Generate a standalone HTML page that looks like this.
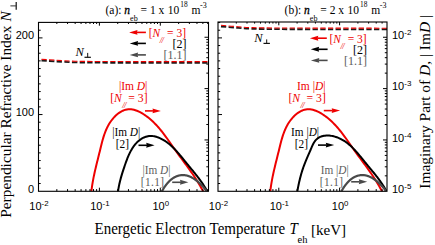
<!DOCTYPE html>
<html><head><meta charset="utf-8"><style>
html,body{margin:0;padding:0;background:#fff;overflow:hidden;}
svg{display:block;}

</style></head><body>
<svg width="435" height="245" viewBox="0 0 435 245">
<rect width="435" height="245" fill="#fff"/>
<defs>
<clipPath id="cL"><rect x="38.5" y="22.4" width="170.00" height="168.90"/></clipPath>
<clipPath id="cR"><rect x="218.0" y="22.0" width="169.00" height="169.30"/></clipPath>
</defs>
<g clip-path="url(#cL)">
<path d="M41.50 60.30C43.75 60.45 49.42 60.88 55.00 61.20C60.58 61.52 67.50 61.98 75.00 62.20C82.50 62.42 87.50 62.43 100.00 62.50C112.50 62.57 132.00 62.58 150.00 62.60C168.00 62.62 198.33 62.60 208.00 62.60" transform="translate(0,0.2)" stroke="#1a1a1a" stroke-width="1.8" fill="none" stroke-dasharray="5.3 2.35"/>
<path d="M41.50 60.30C43.75 60.45 49.42 60.88 55.00 61.20C60.58 61.52 67.50 61.98 75.00 62.20C82.50 62.42 87.50 62.43 100.00 62.50C112.50 62.57 132.00 62.58 150.00 62.60C168.00 62.62 198.33 62.60 208.00 62.60" transform="translate(0,-1.0)" stroke="#ee0000" stroke-width="1.1" fill="none" stroke-dasharray="5.3 2.35"/>
</g>
<g clip-path="url(#cR)">
<path d="M221.00 26.30C223.33 26.50 229.83 27.12 235.00 27.50C240.17 27.88 244.50 28.35 252.00 28.60C259.50 28.85 267.00 28.92 280.00 29.00C293.00 29.08 312.00 29.07 330.00 29.10C348.00 29.13 378.33 29.18 388.00 29.20" transform="translate(0,0.2)" stroke="#1a1a1a" stroke-width="1.8" fill="none" stroke-dasharray="5.3 2.35"/>
<path d="M221.00 26.30C223.33 26.50 229.83 27.12 235.00 27.50C240.17 27.88 244.50 28.35 252.00 28.60C259.50 28.85 267.00 28.92 280.00 29.00C293.00 29.08 312.00 29.07 330.00 29.10C348.00 29.13 378.33 29.18 388.00 29.20" transform="translate(0,-1.0)" stroke="#ee0000" stroke-width="1.1" fill="none" stroke-dasharray="5.3 2.35"/>
</g>
<g clip-path="url(#cL)" fill="none" stroke-width="2" stroke-linejoin="round">
<path d="M91.37 191.46 L91.55 189.92 L91.75 188.38 L91.96 186.86 L92.18 185.35 L92.42 183.84 L92.67 182.34 L92.93 180.85 L93.21 179.36 L93.49 177.88 L93.79 176.41 L94.10 174.94 L94.41 173.48 L94.73 172.02 L95.06 170.56 L95.40 169.11 L95.74 167.65 L96.08 166.20 L96.44 164.75 L96.79 163.30 L97.15 161.85 L97.51 160.40 L97.88 158.95 L98.24 157.49 L98.60 156.03 L98.97 154.57 L99.33 153.11 L99.70 151.64 L100.06 150.17 L100.41 148.69 L100.77 147.21 L101.14 145.73 L101.51 144.24 L101.89 142.76 L102.28 141.29 L102.69 139.81 L103.11 138.35 L103.55 136.89 L104.02 135.43 L104.51 133.99 L105.03 132.57 L105.58 131.15 L106.17 129.75 L106.79 128.37 L107.45 127.00 L108.15 125.65 L108.89 124.33 L109.69 123.03 L110.53 121.75 L111.42 120.50 L112.37 119.27 L113.37 118.08 L114.42 116.93 L115.52 115.83 L116.65 114.79 L117.83 113.81 L119.05 112.91 L120.30 112.08 L121.58 111.34 L122.88 110.70 L124.22 110.16 L125.57 109.73 L126.94 109.42 L128.33 109.24 L129.73 109.18 L131.14 109.26 L132.56 109.46 L133.98 109.78 L135.39 110.19 L136.80 110.70 L138.20 111.29 L139.58 111.95 L140.94 112.67 L142.28 113.44 L143.60 114.26 L144.89 115.11 L146.14 115.99 L147.37 116.90 L148.57 117.83 L149.75 118.79 L150.90 119.78 L152.02 120.79 L153.12 121.82 L154.20 122.87 L155.26 123.95 L156.30 125.04 L157.32 126.15 L158.33 127.28 L159.32 128.42 L160.29 129.58 L161.24 130.75 L162.19 131.94 L163.12 133.14 L164.04 134.34 L164.95 135.56 L165.86 136.78 L166.75 138.01 L167.64 139.25 L168.52 140.49 L169.40 141.73 L170.28 142.98 L171.15 144.22 L172.02 145.47 L172.89 146.71 L173.77 147.96 L174.64 149.20 L175.52 150.43 L176.40 151.66 L177.29 152.88 L178.17 154.10 L179.06 155.32 L179.96 156.53 L180.85 157.74 L181.74 158.95 L182.64 160.16 L183.53 161.37 L184.42 162.58 L185.31 163.78 L186.20 164.99 L187.08 166.20 L187.97 167.42 L188.84 168.63 L189.72 169.85 L190.58 171.08 L191.44 172.31 L192.30 173.54 L193.15 174.78 L193.99 176.03 L194.82 177.28 L195.64 178.54 L196.46 179.81 L197.26 181.09 L198.06 182.38 L198.84 183.68 L199.61 184.99 L200.37 186.31 L201.12 187.65 L201.85 188.99 L202.57 190.35 L203.28 191.73" stroke="#ee0000"/>
<path d="M118.02 191.43 L118.19 190.29 L118.37 189.17 L118.56 188.06 L118.76 186.97 L118.96 185.89 L119.18 184.83 L119.41 183.78 L119.65 182.73 L119.89 181.70 L120.14 180.67 L120.41 179.66 L120.67 178.64 L120.95 177.64 L121.24 176.63 L121.53 175.63 L121.83 174.64 L122.13 173.64 L122.44 172.64 L122.76 171.64 L123.08 170.64 L123.41 169.63 L123.75 168.62 L124.09 167.61 L124.43 166.58 L124.78 165.55 L125.14 164.52 L125.50 163.47 L125.87 162.43 L126.25 161.38 L126.64 160.33 L127.03 159.28 L127.44 158.24 L127.87 157.20 L128.30 156.16 L128.75 155.14 L129.21 154.12 L129.69 153.11 L130.19 152.11 L130.70 151.13 L131.24 150.16 L131.79 149.20 L132.37 148.27 L132.96 147.35 L133.58 146.45 L134.22 145.58 L134.89 144.73 L135.59 143.91 L136.31 143.11 L137.05 142.34 L137.83 141.60 L138.63 140.89 L139.47 140.22 L140.33 139.58 L141.22 138.98 L142.13 138.43 L143.06 137.92 L144.01 137.47 L144.98 137.06 L145.96 136.72 L146.96 136.43 L147.97 136.20 L149.00 136.05 L150.03 135.96 L151.06 135.95 L152.11 136.00 L153.15 136.12 L154.19 136.29 L155.23 136.52 L156.26 136.80 L157.28 137.13 L158.30 137.50 L159.30 137.90 L160.28 138.33 L161.25 138.80 L162.20 139.29 L163.13 139.81 L164.05 140.35 L164.95 140.92 L165.84 141.51 L166.72 142.13 L167.58 142.76 L168.43 143.42 L169.26 144.10 L170.09 144.79 L170.90 145.51 L171.70 146.24 L172.49 146.98 L173.27 147.74 L174.04 148.51 L174.81 149.30 L175.56 150.10 L176.30 150.90 L177.04 151.72 L177.77 152.55 L178.50 153.38 L179.22 154.22 L179.93 155.06 L180.64 155.91 L181.34 156.76 L182.04 157.61 L182.74 158.47 L183.43 159.32 L184.12 160.18 L184.81 161.03 L185.50 161.88 L186.18 162.72 L186.87 163.56 L187.55 164.40 L188.24 165.23 L188.92 166.06 L189.60 166.88 L190.28 167.70 L190.96 168.52 L191.64 169.34 L192.31 170.16 L192.98 170.98 L193.65 171.80 L194.32 172.62 L194.98 173.44 L195.64 174.26 L196.30 175.09 L196.95 175.92 L197.60 176.76 L198.24 177.60 L198.88 178.45 L199.51 179.30 L200.14 180.16 L200.77 181.03 L201.38 181.90 L202.00 182.79 L202.60 183.68 L203.20 184.58 L203.80 185.50 L204.39 186.42 L204.97 187.36 L205.54 188.31 L206.11 189.28 L206.66 190.25 L207.21 191.25" stroke="#000"/>
<path d="M161.73 191.71 L161.91 191.36 L162.10 191.01 L162.30 190.66 L162.50 190.30 L162.70 189.95 L162.91 189.59 L163.12 189.24 L163.34 188.88 L163.56 188.52 L163.79 188.16 L164.02 187.81 L164.25 187.45 L164.49 187.09 L164.73 186.74 L164.98 186.38 L165.23 186.03 L165.48 185.68 L165.74 185.33 L166.00 184.98 L166.27 184.64 L166.54 184.29 L166.82 183.96 L167.09 183.62 L167.38 183.29 L167.66 182.96 L167.95 182.63 L168.25 182.31 L168.54 181.99 L168.84 181.68 L169.15 181.37 L169.45 181.07 L169.77 180.77 L170.08 180.48 L170.40 180.19 L170.72 179.91 L171.05 179.64 L171.38 179.37 L171.71 179.11 L172.04 178.85 L172.38 178.60 L172.72 178.37 L173.07 178.13 L173.42 177.91 L173.77 177.69 L174.12 177.49 L174.48 177.29 L174.84 177.09 L175.20 176.91 L175.57 176.74 L175.93 176.57 L176.30 176.41 L176.67 176.26 L177.05 176.12 L177.42 175.99 L177.80 175.87 L178.18 175.75 L178.56 175.64 L178.95 175.55 L179.33 175.46 L179.72 175.38 L180.10 175.31 L180.49 175.25 L180.88 175.20 L181.27 175.15 L181.66 175.12 L182.05 175.09 L182.44 175.08 L182.84 175.07 L183.23 175.08 L183.62 175.09 L184.02 175.11 L184.41 175.14 L184.80 175.19 L185.19 175.24 L185.59 175.30 L185.98 175.37 L186.37 175.45 L186.76 175.54 L187.15 175.64 L187.54 175.75 L187.93 175.87 L188.32 175.99 L188.71 176.13 L189.09 176.27 L189.48 176.42 L189.86 176.58 L190.24 176.75 L190.62 176.92 L191.00 177.10 L191.38 177.29 L191.76 177.48 L192.13 177.69 L192.51 177.89 L192.88 178.11 L193.25 178.33 L193.62 178.56 L193.98 178.79 L194.35 179.03 L194.71 179.27 L195.07 179.52 L195.43 179.77 L195.78 180.03 L196.13 180.29 L196.48 180.56 L196.83 180.83 L197.18 181.10 L197.52 181.38 L197.86 181.66 L198.19 181.95 L198.53 182.24 L198.86 182.53 L199.18 182.82 L199.51 183.12 L199.83 183.42 L200.14 183.72 L200.46 184.03 L200.77 184.33 L201.07 184.64 L201.38 184.95 L201.68 185.26 L201.97 185.57 L202.26 185.88 L202.55 186.19 L202.84 186.50 L203.12 186.81 L203.39 187.13 L203.66 187.44 L203.93 187.75 L204.19 188.06 L204.45 188.37 L204.70 188.68 L204.95 188.99 L205.20 189.30 L205.44 189.60 L205.67 189.91 L205.90 190.21 L206.12 190.51 L206.34 190.81 L206.56 191.10" stroke="#4a4a4a" stroke-width="2.2"/>
</g>
<g clip-path="url(#cR)" fill="none" stroke-width="2" stroke-linejoin="round">
<path d="M270.27 191.46 L270.45 189.92 L270.65 188.38 L270.86 186.86 L271.08 185.35 L271.32 183.84 L271.57 182.34 L271.83 180.85 L272.11 179.36 L272.39 177.88 L272.69 176.41 L273.00 174.94 L273.31 173.48 L273.63 172.02 L273.96 170.56 L274.30 169.11 L274.64 167.65 L274.98 166.20 L275.34 164.75 L275.69 163.30 L276.05 161.85 L276.41 160.40 L276.78 158.95 L277.14 157.49 L277.50 156.03 L277.87 154.57 L278.23 153.11 L278.60 151.64 L278.96 150.17 L279.31 148.69 L279.67 147.21 L280.04 145.73 L280.41 144.24 L280.79 142.76 L281.18 141.29 L281.59 139.81 L282.01 138.35 L282.45 136.89 L282.92 135.43 L283.41 133.99 L283.93 132.57 L284.48 131.15 L285.07 129.75 L285.69 128.37 L286.35 127.00 L287.05 125.65 L287.79 124.33 L288.59 123.03 L289.43 121.75 L290.32 120.50 L291.27 119.27 L292.27 118.08 L293.32 116.93 L294.42 115.83 L295.55 114.79 L296.73 113.81 L297.95 112.91 L299.20 112.08 L300.48 111.34 L301.78 110.70 L303.12 110.16 L304.47 109.73 L305.84 109.42 L307.23 109.24 L308.63 109.18 L310.04 109.26 L311.46 109.46 L312.88 109.78 L314.29 110.19 L315.70 110.70 L317.10 111.29 L318.48 111.95 L319.84 112.67 L321.18 113.44 L322.50 114.26 L323.79 115.11 L325.04 115.99 L326.27 116.90 L327.47 117.83 L328.65 118.79 L329.80 119.78 L330.92 120.79 L332.02 121.82 L333.10 122.87 L334.16 123.95 L335.20 125.04 L336.22 126.15 L337.23 127.28 L338.22 128.42 L339.19 129.58 L340.14 130.75 L341.09 131.94 L342.02 133.14 L342.94 134.34 L343.85 135.56 L344.76 136.78 L345.65 138.01 L346.54 139.25 L347.42 140.49 L348.30 141.73 L349.18 142.98 L350.05 144.22 L350.92 145.47 L351.79 146.71 L352.67 147.96 L353.54 149.20 L354.42 150.43 L355.30 151.66 L356.19 152.88 L357.07 154.10 L357.96 155.32 L358.86 156.53 L359.75 157.74 L360.64 158.95 L361.54 160.16 L362.43 161.37 L363.32 162.58 L364.21 163.78 L365.10 164.99 L365.98 166.20 L366.87 167.42 L367.74 168.63 L368.62 169.85 L369.48 171.08 L370.34 172.31 L371.20 173.54 L372.05 174.78 L372.89 176.03 L373.72 177.28 L374.54 178.54 L375.36 179.81 L376.16 181.09 L376.96 182.38 L377.74 183.68 L378.51 184.99 L379.27 186.31 L380.02 187.65 L380.75 188.99 L381.47 190.35 L382.18 191.73" stroke="#ee0000"/>
<path d="M297.33 191.40 L297.51 190.35 L297.70 189.29 L297.89 188.23 L298.10 187.17 L298.31 186.10 L298.53 185.03 L298.75 183.95 L298.99 182.88 L299.23 181.80 L299.48 180.73 L299.73 179.65 L300.00 178.58 L300.27 177.50 L300.55 176.43 L300.84 175.37 L301.13 174.31 L301.44 173.25 L301.75 172.20 L302.07 171.15 L302.40 170.11 L302.74 169.08 L303.08 168.06 L303.44 167.04 L303.80 166.04 L304.17 165.04 L304.55 164.05 L304.94 163.07 L305.33 162.09 L305.73 161.12 L306.14 160.14 L306.56 159.17 L306.98 158.19 L307.40 157.20 L307.84 156.21 L308.27 155.21 L308.71 154.20 L309.16 153.17 L309.60 152.13 L310.05 151.08 L310.51 150.01 L310.97 148.92 L311.43 147.82 L311.91 146.72 L312.40 145.62 L312.91 144.55 L313.45 143.52 L314.03 142.52 L314.64 141.58 L315.29 140.69 L315.99 139.88 L316.73 139.15 L317.52 138.49 L318.36 137.90 L319.22 137.39 L320.13 136.94 L321.06 136.55 L322.03 136.23 L323.02 135.97 L324.03 135.77 L325.06 135.63 L326.11 135.55 L327.18 135.51 L328.25 135.53 L329.33 135.60 L330.42 135.72 L331.51 135.88 L332.59 136.08 L333.67 136.32 L334.75 136.61 L335.81 136.93 L336.86 137.28 L337.89 137.67 L338.91 138.09 L339.90 138.54 L340.88 139.01 L341.84 139.52 L342.78 140.05 L343.70 140.60 L344.61 141.19 L345.50 141.79 L346.38 142.42 L347.24 143.07 L348.09 143.74 L348.93 144.43 L349.75 145.13 L350.56 145.86 L351.36 146.60 L352.15 147.35 L352.93 148.12 L353.70 148.91 L354.46 149.70 L355.22 150.51 L355.96 151.33 L356.70 152.15 L357.43 152.99 L358.15 153.83 L358.87 154.68 L359.58 155.53 L360.29 156.38 L360.99 157.24 L361.69 158.10 L362.39 158.96 L363.09 159.83 L363.78 160.69 L364.48 161.54 L365.17 162.40 L365.87 163.25 L366.56 164.09 L367.25 164.94 L367.95 165.77 L368.64 166.61 L369.34 167.44 L370.03 168.27 L370.72 169.10 L371.41 169.93 L372.09 170.76 L372.78 171.58 L373.46 172.42 L374.14 173.25 L374.81 174.08 L375.48 174.92 L376.15 175.76 L376.81 176.61 L377.46 177.46 L378.11 178.32 L378.76 179.18 L379.40 180.05 L380.03 180.93 L380.66 181.81 L381.28 182.71 L381.89 183.61 L382.50 184.52 L383.09 185.45 L383.68 186.38 L384.26 187.33 L384.83 188.29 L385.39 189.26 L385.94 190.24 L386.49 191.24" stroke="#000"/>
<path d="M341.23 191.71 L341.41 191.36 L341.60 191.01 L341.80 190.66 L342.00 190.30 L342.20 189.95 L342.41 189.59 L342.62 189.24 L342.84 188.88 L343.06 188.52 L343.29 188.16 L343.52 187.81 L343.75 187.45 L343.99 187.09 L344.23 186.74 L344.48 186.38 L344.73 186.03 L344.98 185.68 L345.24 185.33 L345.50 184.98 L345.77 184.64 L346.04 184.29 L346.32 183.96 L346.59 183.62 L346.88 183.29 L347.16 182.96 L347.45 182.63 L347.75 182.31 L348.04 181.99 L348.34 181.68 L348.65 181.37 L348.95 181.07 L349.27 180.77 L349.58 180.48 L349.90 180.19 L350.22 179.91 L350.55 179.64 L350.88 179.37 L351.21 179.11 L351.54 178.85 L351.88 178.60 L352.22 178.37 L352.57 178.13 L352.92 177.91 L353.27 177.69 L353.62 177.49 L353.98 177.29 L354.34 177.09 L354.70 176.91 L355.07 176.74 L355.43 176.57 L355.80 176.41 L356.17 176.26 L356.55 176.12 L356.92 175.99 L357.30 175.87 L357.68 175.75 L358.06 175.64 L358.45 175.55 L358.83 175.46 L359.22 175.38 L359.60 175.31 L359.99 175.25 L360.38 175.20 L360.77 175.15 L361.16 175.12 L361.55 175.09 L361.94 175.08 L362.34 175.07 L362.73 175.08 L363.12 175.09 L363.52 175.11 L363.91 175.14 L364.30 175.19 L364.69 175.24 L365.09 175.30 L365.48 175.37 L365.87 175.45 L366.26 175.54 L366.65 175.64 L367.04 175.75 L367.43 175.87 L367.82 175.99 L368.21 176.13 L368.59 176.27 L368.98 176.42 L369.36 176.58 L369.74 176.75 L370.12 176.92 L370.50 177.10 L370.88 177.29 L371.26 177.48 L371.63 177.69 L372.01 177.89 L372.38 178.11 L372.75 178.33 L373.12 178.56 L373.48 178.79 L373.85 179.03 L374.21 179.27 L374.57 179.52 L374.93 179.77 L375.28 180.03 L375.63 180.29 L375.98 180.56 L376.33 180.83 L376.68 181.10 L377.02 181.38 L377.36 181.66 L377.69 181.95 L378.03 182.24 L378.36 182.53 L378.68 182.82 L379.01 183.12 L379.33 183.42 L379.64 183.72 L379.96 184.03 L380.27 184.33 L380.57 184.64 L380.88 184.95 L381.18 185.26 L381.47 185.57 L381.76 185.88 L382.05 186.19 L382.34 186.50 L382.62 186.81 L382.89 187.13 L383.16 187.44 L383.43 187.75 L383.69 188.06 L383.95 188.37 L384.20 188.68 L384.45 188.99 L384.70 189.30 L384.94 189.60 L385.17 189.91 L385.40 190.21 L385.62 190.51 L385.84 190.81 L386.06 191.10" stroke="#4a4a4a" stroke-width="2.2"/>
</g>
<path d="M56.83 191.30v-2.2M56.83 22.40v1.6M67.56 191.30v-2.2M67.56 22.40v1.6M75.17 191.30v-2.2M75.17 22.40v1.6M81.07 191.30v-2.2M81.07 22.40v1.6M85.89 191.30v-2.2M85.89 22.40v1.6M89.97 191.30v-2.2M89.97 22.40v1.6M93.50 191.30v-2.2M93.50 22.40v1.6M96.61 191.30v-2.2M96.61 22.40v1.6M99.40 191.30v-3.6M99.40 22.40v3.3M117.73 191.30v-2.2M117.73 22.40v1.6M128.46 191.30v-2.2M128.46 22.40v1.6M136.07 191.30v-2.2M136.07 22.40v1.6M141.97 191.30v-2.2M141.97 22.40v1.6M146.79 191.30v-2.2M146.79 22.40v1.6M150.87 191.30v-2.2M150.87 22.40v1.6M154.40 191.30v-2.2M154.40 22.40v1.6M157.51 191.30v-2.2M157.51 22.40v1.6M160.30 191.30v-3.6M160.30 22.40v3.3M178.63 191.30v-2.2M178.63 22.40v1.6M189.36 191.30v-2.2M189.36 22.40v1.6M196.97 191.30v-2.2M196.97 22.40v1.6M202.87 191.30v-2.2M202.87 22.40v1.6M207.69 191.30v-2.2M207.69 22.40v1.6M38.50 183.53h2.2M38.50 175.87h2.2M38.50 168.20h2.2M38.50 160.54h2.2M38.50 152.88h2.2M38.50 145.21h2.2M38.50 137.54h2.2M38.50 129.88h2.2M38.50 122.21h2.2M38.50 114.55h4.0M38.50 106.88h2.2M38.50 99.22h2.2M38.50 91.55h2.2M38.50 83.89h2.2M38.50 76.22h2.2M38.50 68.56h2.2M38.50 60.89h2.2M38.50 53.23h2.2M38.50 45.56h2.2M38.50 37.90h4.0M38.50 30.23h2.2M208.50 175.84h-2.2M208.50 166.80h-2.2M208.50 160.38h-2.2M208.50 155.41h-2.2M208.50 151.34h-2.2M208.50 147.90h-2.2M208.50 144.93h-2.2M208.50 142.30h-2.2M208.50 139.95h-4.0M208.50 124.49h-2.2M208.50 115.45h-2.2M208.50 109.03h-2.2M208.50 104.06h-2.2M208.50 99.99h-2.2M208.50 96.55h-2.2M208.50 93.58h-2.2M208.50 90.95h-2.2M208.50 88.60h-4.0M208.50 73.14h-2.2M208.50 64.10h-2.2M208.50 57.68h-2.2M208.50 52.71h-2.2M208.50 48.64h-2.2M208.50 45.20h-2.2M208.50 42.23h-2.2M208.50 39.60h-2.2M208.50 37.25h-4.0" stroke="#000" stroke-width="1" fill="none"/>
<rect x="38.5" y="22.4" width="170.00" height="168.90" fill="none" stroke="#000" stroke-width="1.1"/>
<path d="M236.30 191.30v-2.2M236.30 22.00v1.6M247.01 191.30v-2.2M247.01 22.00v1.6M254.61 191.30v-2.2M254.61 22.00v1.6M260.50 191.30v-2.2M260.50 22.00v1.6M265.31 191.30v-2.2M265.31 22.00v1.6M269.38 191.30v-2.2M269.38 22.00v1.6M272.91 191.30v-2.2M272.91 22.00v1.6M276.02 191.30v-2.2M276.02 22.00v1.6M278.80 191.30v-3.6M278.80 22.00v3.3M297.10 191.30v-2.2M297.10 22.00v1.6M307.81 191.30v-2.2M307.81 22.00v1.6M315.41 191.30v-2.2M315.41 22.00v1.6M321.30 191.30v-2.2M321.30 22.00v1.6M326.11 191.30v-2.2M326.11 22.00v1.6M330.18 191.30v-2.2M330.18 22.00v1.6M333.71 191.30v-2.2M333.71 22.00v1.6M336.82 191.30v-2.2M336.82 22.00v1.6M339.60 191.30v-3.6M339.60 22.00v3.3M357.90 191.30v-2.2M357.90 22.00v1.6M368.61 191.30v-2.2M368.61 22.00v1.6M376.21 191.30v-2.2M376.21 22.00v1.6M382.10 191.30v-2.2M382.10 22.00v1.6M218.00 183.53h2.2M218.00 175.87h2.2M218.00 168.20h2.2M218.00 160.54h2.2M218.00 152.88h2.2M218.00 145.21h2.2M218.00 137.54h2.2M218.00 129.88h2.2M218.00 122.21h2.2M218.00 114.55h4.0M218.00 106.88h2.2M218.00 99.22h2.2M218.00 91.55h2.2M218.00 83.89h2.2M218.00 76.22h2.2M218.00 68.56h2.2M218.00 60.89h2.2M218.00 53.23h2.2M218.00 45.56h2.2M218.00 37.90h4.0M218.00 30.23h2.2M218.00 22.57h2.2M387.00 175.84h-2.2M387.00 166.80h-2.2M387.00 160.38h-2.2M387.00 155.41h-2.2M387.00 151.34h-2.2M387.00 147.90h-2.2M387.00 144.93h-2.2M387.00 142.30h-2.2M387.00 139.95h-4.0M387.00 124.49h-2.2M387.00 115.45h-2.2M387.00 109.03h-2.2M387.00 104.06h-2.2M387.00 99.99h-2.2M387.00 96.55h-2.2M387.00 93.58h-2.2M387.00 90.95h-2.2M387.00 88.60h-4.0M387.00 73.14h-2.2M387.00 64.10h-2.2M387.00 57.68h-2.2M387.00 52.71h-2.2M387.00 48.64h-2.2M387.00 45.20h-2.2M387.00 42.23h-2.2M387.00 39.60h-2.2M387.00 37.25h-4.0" stroke="#000" stroke-width="1" fill="none"/>
<rect x="218.0" y="22.0" width="169.00" height="169.30" fill="none" stroke="#000" stroke-width="1.1"/>
<path d="M145.90 32.40H136.50" stroke="#ee0000" stroke-width="1.6" fill="none"/><path d="M129.10 32.40L137.50 29.95L136.90 32.40L137.50 34.85Z" fill="#ee0000"/>
<path d="M145.90 43.40H137.10" stroke="#000" stroke-width="1.6" fill="none"/><path d="M129.70 43.40L138.10 40.95L137.50 43.40L138.10 45.85Z" fill="#000"/>
<path d="M145.90 54.90H137.10" stroke="#4a4a4a" stroke-width="1.6" fill="none"/><path d="M129.70 54.90L138.10 52.45L137.50 54.90L138.10 57.35Z" fill="#4a4a4a"/>
<path d="M326.80 38.20H317.30" stroke="#ee0000" stroke-width="1.6" fill="none"/><path d="M309.90 38.20L318.30 35.75L317.70 38.20L318.30 40.65Z" fill="#ee0000"/>
<path d="M327.60 49.30H318.10" stroke="#000" stroke-width="1.6" fill="none"/><path d="M310.70 49.30L319.10 46.85L318.50 49.30L319.10 51.75Z" fill="#000"/>
<path d="M327.60 60.40H318.30" stroke="#4a4a4a" stroke-width="1.6" fill="none"/><path d="M310.90 60.40L319.30 57.95L318.70 60.40L319.30 62.85Z" fill="#4a4a4a"/>
<path d="M145.00 110.90H153.50" stroke="#ee0000" stroke-width="1.6" fill="none"/><path d="M160.90 110.90L152.50 108.45L153.10 110.90L152.50 113.35Z" fill="#ee0000"/>
<path d="M138.50 145.30H147.20" stroke="#000" stroke-width="1.6" fill="none"/><path d="M154.60 145.30L146.20 142.85L146.80 145.30L146.20 147.75Z" fill="#000"/>
<path d="M172.20 182.30H181.00" stroke="#4a4a4a" stroke-width="1.6" fill="none"/><path d="M188.40 182.30L180.00 179.85L180.60 182.30L180.00 184.75Z" fill="#4a4a4a"/>
<path d="M323.80 110.60H332.70" stroke="#ee0000" stroke-width="1.6" fill="none"/><path d="M340.10 110.60L331.70 108.15L332.30 110.60L331.70 113.05Z" fill="#ee0000"/>
<path d="M318.00 145.10H326.80" stroke="#000" stroke-width="1.6" fill="none"/><path d="M334.20 145.10L325.80 142.65L326.40 145.10L325.80 147.55Z" fill="#000"/>
<path d="M351.20 181.80H359.80" stroke="#4a4a4a" stroke-width="1.6" fill="none"/><path d="M367.20 181.80L358.80 179.35L359.40 181.80L358.80 184.25Z" fill="#4a4a4a"/>
<text x="34" y="38.8" font-family="Liberation Sans" font-size="11" text-anchor="end">200</text>
<text x="34" y="115.9" font-family="Liberation Sans" font-size="11" text-anchor="end">100</text>
<text x="34" y="193.2" font-family="Liberation Sans" font-size="11" text-anchor="end">0</text>
<text x="39.0" y="209.9" font-family="Liberation Sans" font-size="11" text-anchor="middle">10<tspan font-size="7.9" dy="-4">-2</tspan></text>
<text x="99.9" y="209.9" font-family="Liberation Sans" font-size="11" text-anchor="middle">10<tspan font-size="7.9" dy="-4">-1</tspan></text>
<text x="160.8" y="209.9" font-family="Liberation Sans" font-size="11" text-anchor="middle">10<tspan font-size="7.9" dy="-4">0</tspan></text>
<text x="218.5" y="209.9" font-family="Liberation Sans" font-size="11" text-anchor="middle">10<tspan font-size="7.9" dy="-4">-2</tspan></text>
<text x="279.3" y="209.9" font-family="Liberation Sans" font-size="11" text-anchor="middle">10<tspan font-size="7.9" dy="-4">-1</tspan></text>
<text x="340.1" y="209.9" font-family="Liberation Sans" font-size="11" text-anchor="middle">10<tspan font-size="7.9" dy="-4">0</tspan></text>
<text x="392" y="38.8" font-family="Liberation Sans" font-size="11">10<tspan font-size="8" dy="-4">-2</tspan></text>
<text x="392" y="90.4" font-family="Liberation Sans" font-size="11">10<tspan font-size="8" dy="-4">-3</tspan></text>
<text x="392" y="141.8" font-family="Liberation Sans" font-size="11">10<tspan font-size="8" dy="-4">-4</tspan></text>
<text x="392" y="193.0" font-family="Liberation Sans" font-size="11">10<tspan font-size="8" dy="-4">-5</tspan></text>
<text x="105.5" y="14.1" font-family="Liberation Serif" font-size="11.5">(a): <tspan font-style="italic" stroke="#000" stroke-width="0.3">n</tspan><tspan font-size="8" dy="7.2">eb</tspan><tspan dy="-7.2"> = 1 x <tspan dx="0.7">10</tspan></tspan><tspan font-size="7.4" dy="-7.6" dx="1.0">18</tspan><tspan dy="7.6" dx="0.8"> m</tspan><tspan font-size="8" dy="-6.3" dx="-0.3">-3</tspan></text>
<text x="284.6" y="14.1" font-family="Liberation Serif" font-size="11.5">(b): <tspan font-style="italic" stroke="#000" stroke-width="0.3">n</tspan><tspan font-size="8" dy="7.2">eb</tspan><tspan dy="-7.2"> = 2 x <tspan dx="0.7">10</tspan></tspan><tspan font-size="7.4" dy="-7.6" dx="1.0">18</tspan><tspan dy="7.6" dx="0.8"> m</tspan><tspan font-size="8" dy="-6.3" dx="-0.3">-3</tspan></text>
<text transform="translate(148.70,37.0) scale(1,1.045)" font-family="Liberation Serif" font-size="11.5" fill="#ee0000">[<tspan font-style="italic">N</tspan></text>
<text transform="translate(159.70,42.50) scale(1,1.05)" font-family="Liberation Serif" font-size="8.6" font-style="italic" fill="#ee0000" letter-spacing="-0.6">//</text>
<text transform="translate(186.0,37.0) scale(1,1.045)" font-family="Liberation Serif" font-size="11.5" fill="#ee0000" text-anchor="end">= 3]</text>
<text x="186.6" y="47.8" font-family="Liberation Serif" font-size="12" fill="#000" text-anchor="end">[2]</text>
<text x="186.6" y="59.0" font-family="Liberation Serif" font-size="12" fill="#5c5c5c" text-anchor="end">[1.1]</text>
<text transform="translate(329.40,43.2) scale(1,1.045)" font-family="Liberation Serif" font-size="11.5" fill="#ee0000">[<tspan font-style="italic">N</tspan></text>
<text transform="translate(340.40,48.70) scale(1,1.05)" font-family="Liberation Serif" font-size="8.6" font-style="italic" fill="#ee0000" letter-spacing="-0.6">//</text>
<text transform="translate(366.7,43.2) scale(1,1.045)" font-family="Liberation Serif" font-size="11.5" fill="#ee0000" text-anchor="end">= 3]</text>
<text x="367.0" y="54.4" font-family="Liberation Serif" font-size="12" fill="#000" text-anchor="end">[2]</text>
<text x="367.0" y="65.3" font-family="Liberation Serif" font-size="12" fill="#5c5c5c" text-anchor="end">[1.1]</text>
<text x="75.6" y="55.8" font-family="Liberation Serif" font-size="12.5" font-style="italic">N</text>
<path d="M84.5 57.3H90.9" stroke="#111" stroke-width="1.2"/><path d="M87.7 52.9V57.3" stroke="#111" stroke-width="1.0"/>
<text x="254.3" y="41.8" font-family="Liberation Serif" font-size="12.5" font-style="italic">N</text>
<path d="M263.5 43.4H269.9" stroke="#111" stroke-width="1.2"/><path d="M266.7 39.4V43.4" stroke="#111" stroke-width="1.0"/>
<text transform="translate(118.9,90.2) scale(1,1.07)" font-family="Liberation Serif" font-size="11.5" fill="#ee0000">|Im <tspan font-style="italic">D</tspan>|</text>
<text transform="translate(110.2,101.9) scale(1,1.07)" font-family="Liberation Serif" font-size="11.7" fill="#ee0000">[<tspan font-style="italic">N</tspan></text>
<text transform="translate(122.20,107.50) scale(1,1.05)" font-family="Liberation Serif" font-size="8.8" font-style="italic" fill="#ee0000" letter-spacing="-0.6">//</text>
<text transform="translate(147.6,101.9) scale(1,1.07)" font-family="Liberation Serif" font-size="11.7" fill="#ee0000" text-anchor="end">= 3]</text>
<text transform="translate(112.2,136.0) scale(1,1.09)" font-family="Liberation Serif" font-size="11.3" fill="#000">|Im <tspan font-style="italic">D</tspan>|</text>
<text transform="translate(115.8,148.2) scale(1,1.09)" font-family="Liberation Serif" font-size="11.3" fill="#000">[2]</text>
<text transform="translate(142.4,173.6) scale(1,1.09)" font-family="Liberation Serif" font-size="11.3" fill="#5c5c5c">|Im <tspan font-style="italic">D</tspan>|</text>
<text transform="translate(140.7,186.4) scale(1,1.09)" font-family="Liberation Serif" font-size="11.3" fill="#5c5c5c"><tspan letter-spacing="0.45">[1.1</tspan>]</text>
<text transform="translate(297.0,90.2) scale(1,1.07)" font-family="Liberation Serif" font-size="11.5" fill="#ee0000">Im |<tspan font-style="italic">D</tspan>|</text>
<text transform="translate(288.4,101.9) scale(1,1.07)" font-family="Liberation Serif" font-size="11.7" fill="#ee0000">[<tspan font-style="italic">N</tspan></text>
<text transform="translate(300.40,107.50) scale(1,1.05)" font-family="Liberation Serif" font-size="8.8" font-style="italic" fill="#ee0000" letter-spacing="-0.6">//</text>
<text transform="translate(325.8,101.9) scale(1,1.07)" font-family="Liberation Serif" font-size="11.7" fill="#ee0000" text-anchor="end">= 3]</text>
<text transform="translate(291.1,135.8) scale(1,1.09)" font-family="Liberation Serif" font-size="11.3" fill="#000">Im |<tspan font-style="italic">D</tspan>|</text>
<text transform="translate(294.8,148.4) scale(1,1.09)" font-family="Liberation Serif" font-size="11.3" fill="#000">[2]</text>
<text transform="translate(320.7,173.8) scale(1,1.09)" font-family="Liberation Serif" font-size="11.3" fill="#5c5c5c">Im |<tspan font-style="italic">D</tspan>|</text>
<text transform="translate(319.7,186.4) scale(1,1.09)" font-family="Liberation Serif" font-size="11.3" fill="#5c5c5c"><tspan letter-spacing="0.45">[1.1</tspan>]</text>
<text transform="translate(94.5,234.4) scale(1,1.05)" font-family="Liberation Serif" font-size="15">Energetic Electron Temperature</text>
<text transform="translate(289.5,234.4) scale(1,1.05)" font-family="Liberation Serif" font-size="15" font-style="italic">T</text>
<text transform="translate(297.6,243.2) scale(1,1.05)" font-family="Liberation Serif" font-size="10.5">eh</text>
<text transform="translate(310.9,234.9)" font-family="Liberation Serif" font-size="15.1">[keV]</text>
<text font-family="Liberation Serif" font-size="14.7" transform="translate(11.2,217.75) scale(1,1.047) rotate(-90)">Perpendicular Refractive Index<tspan font-style="italic" dx="3.9">N</tspan></text>
<path d="M16.2 2.1V9.7" stroke="#111" stroke-width="1.2"/><path d="M10.4 5.9H16.2" stroke="#333" stroke-width="1.0"/>
<text font-family="Liberation Serif" font-size="14.7" transform="translate(429.9,188.65) scale(1,1.05) rotate(-90)">Imaginary Part of <tspan font-style="italic">D</tspan>, | Im<tspan font-style="italic">D</tspan> |</text>
</svg>
</body></html>
